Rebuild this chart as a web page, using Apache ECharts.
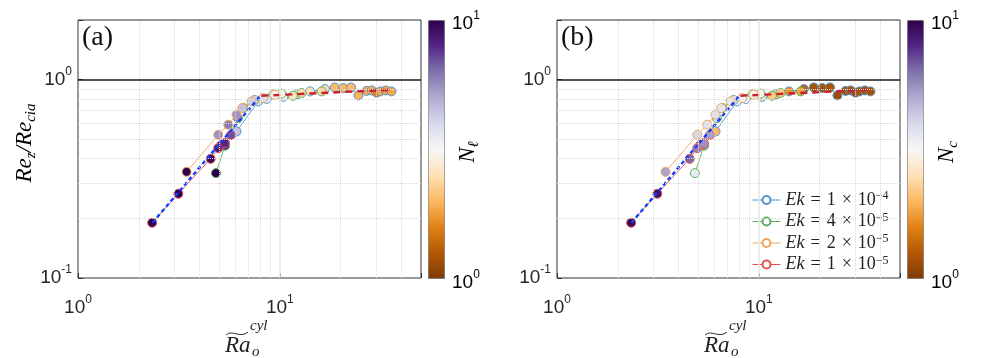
<!DOCTYPE html>
<html>
<head>
<meta charset="utf-8">
<script src="https://cdn.jsdelivr.net/npm/echarts@6/dist/echarts.min.js"></script>
<style>
  html, body { margin: 0; background: #fff; }
  #chart { width: 981px; height: 358px; }
</style>
</head>
<body>
<div id="chart"></div>
<script>
// --- data (same x/y in both panels, fill differs) ---
const ekNames = ['Ek1e-4', 'Ek4e-5', 'Ek2e-5', 'Ek1e-5'];
const ekText = { 'Ek1e-4': ['1', '−4'], 'Ek4e-5': ['4', '−5'], 'Ek2e-5': ['2', '−5'], 'Ek1e-5': ['1', '−5'] };

const blueX  = [6.1, 7.8, 8.6, 10.4, 12.2, 14.1, 16.7, 18.7, 20.6, 22.5, 24.5, 26.9, 28.5, 30.1, 31.5, 33.5, 35.7];
const blueY  = [0.548, 0.777, 0.80, 0.82, 0.845, 0.873, 0.897, 0.914, 0.908, 0.914, 0.833, 0.878, 0.883, 0.86, 0.873, 0.883, 0.873];
const blueNl = [4.5, 3.8, 3.6, 3.0, 2.8, 2.6, 2.5, 2.0, 2.0, 2.0, 1.95, 1.9, 1.9, 1.6, 1.85, 1.85, 1.85];
const blueNc = [2.0, 3.4, 3.2, 2.6, 2.3, 1.7, 1.35, 1.2, 1.2, 1.2, 1.15, 1.2, 1.2, 1.15, 1.2, 1.2, 1.2];

const greenX  = [4.82, 5.35, 6.2, 6.6, 7.5, 9.3, 10.2, 11.6, 12.8, 16.1];
const greenY  = [0.338, 0.465, 0.64, 0.72, 0.79, 0.845, 0.85, 0.83, 0.857, 0.873];
const greenNl = [10, 8, 6, 4.5, 4, 3.3, 3.0, 2.6, 2.5, 2.4];
const greenNc = [3.5, 5.5, 4, 3.7, 3.5, 3.2, 3.0, 2.2, 2.2, 1.8];

const orangeX  = [3.45, 4.95, 5.55, 6.1, 6.51, 7.24, 8.27, 9.45];
const orangeY  = [0.343, 0.527, 0.593, 0.666, 0.719, 0.777, 0.808, 0.84];
const orangeNl = [10, 5.5, 6, 5.5, 4.5, 4.2, 3.8, 3.2];
const orangeNc = [5.2, 4, 3.7, 3.7, 3.6, 3.5, 3.3, 3.1];

const redX  = [2.33, 3.14, 4.54, 4.95, 5.14, 5.34, 5.72];
const redY  = [0.190, 0.266, 0.399, 0.452, 0.470, 0.479, 0.526];
const redNl = [10, 10, 9.5, 8.5, 8, 8, 7];
const redNc = [9.5, 9, 6.5, 5.8, 5.5, 5.5, 5.2];

const blueFitX = [2.34, 7.96];
const blueFitY = [0.19, 0.823];
const redFitX  = [8.1, 36.4];
const redFitY  = [0.83, 0.89];

const xMinor = [2, 3, 4, 5, 6, 7, 8, 9, 20, 30, 40];
const yMinor = [0.2, 0.3, 0.4, 0.5, 0.6, 0.7, 0.8, 0.9];
const cbMinor = [2, 3, 4, 5, 6, 7, 8, 9];

const ekColors = ['#4f94cf', '#5cb05c', '#f2a45c', '#e05252'];
const puOr = ['#7f3b08', '#b35806', '#e08214', '#fdb863', '#fee0b6', '#f7f7f7',
              '#d8daeb', '#b2abd2', '#8073ac', '#542788', '#2d004b'];

const chart = echarts.init(document.getElementById('chart'));

const sans = 'Liberation Sans';
const serif = 'Liberation Serif';
const ink = '#262626';

const tickRich = {
  b: { fontFamily: sans, fontSize: 19, color: ink, lineHeight: 28 },
  s: { fontFamily: sans, fontSize: 12, color: ink, lineHeight: 9, verticalAlign: 'top' }
};

function powLabel(v) {
  const e = Math.log10(v);
  const r = Math.round(e);
  if (Math.abs(e - r) > 1e-6) return '';
  return '{b|10}{s|' + (r < 0 ? '-' + (-r) : r) + '}';
}

const panels = [
  { left: 78, cb: 428, nl: 'ℓ', label: '(a)' },
  { left: 557, cb: 907, nl: 'c', label: '(b)' }
];
const gTop = 20, gW = 343, gH = 258;

const grids = [], xAxes = [], yAxes = [], series = [], visualMaps = [], graphics = [];

panels.forEach((p, k) => {
  grids.push({ left: p.left, top: gTop, width: gW, height: gH, show: true,
               borderColor: '#333', borderWidth: 1, backgroundColor: 'transparent' });
  xAxes.push({
    type: 'log', gridIndex: k, min: 1, max: 50, logBase: 10,
    axisLine: { show: false },
    axisTick: { inside: true, length: 5, lineStyle: { color: '#333' } },
    axisLabel: { margin: 16, formatter: powLabel, rich: tickRich },
    splitLine: { show: false }
  });
  yAxes.push({
    type: 'log', gridIndex: k, min: 0.1, max: 2, logBase: 10,
    axisLine: { show: false },
    axisTick: { inside: true, length: 5, lineStyle: { color: '#333' } },
    axisLabel: { margin: 6, formatter: powLabel, rich: tickRich },
    splitLine: { show: false }
  });

  const gridLines = [];
  xMinor.forEach(v => gridLines.push({ xAxis: v }));
  yMinor.forEach(v => gridLines.push({ yAxis: v }));
  gridLines.push({ xAxis: 10, lineStyle: { type: 'solid', color: '#e6e6e6', width: 1.5 } });
  gridLines.push({ yAxis: 1, lineStyle: { type: 'solid', color: '#1a1a1a', width: 1.5 } });

  series.push({
    type: 'line', xAxisIndex: k, yAxisIndex: k, data: [], silent: true, z: 1,
    markLine: {
      silent: true, symbol: ['none', 'none'], label: { show: false },
      lineStyle: { type: 'dotted', color: '#d9d9d9', width: 1 },
      emphasis: { disabled: true },
      data: gridLines
    }
  });

  const first = series.length;
  const sets = [
    [blueX, blueY, k ? blueNc : blueNl],
    [greenX, greenY, k ? greenNc : greenNl],
    [orangeX, orangeY, k ? orangeNc : orangeNl],
    [redX, redY, k ? redNc : redNl]
  ];
  sets.forEach((s, i) => {
    series.push({
      name: ekNames[i], type: 'line', xAxisIndex: k, yAxisIndex: k, z: 3,
      data: s[0].map((x, j) => [x, s[1][j], Math.log10(s[2][j])]),
      symbol: 'circle', symbolSize: 9, showSymbol: true,
      lineStyle: { color: ekColors[i], width: 0.9 },
      itemStyle: { color: '#ffffff', borderColor: ekColors[i], borderWidth: 1 },
      emphasis: { disabled: true }
    });
  });
  visualMaps.push({
    type: 'continuous', min: 0, max: 1, dimension: 2,
    seriesIndex: [first, first + 1, first + 2, first + 3],
    inRange: { color: puOr },
    left: p.cb, top: gTop, itemWidth: 16, itemHeight: gH,
    calculable: false, text: null, padding: 0, hoverLink: false,
    borderColor: '#777', borderWidth: 1
  });

  series.push({
    type: 'line', xAxisIndex: k, yAxisIndex: k, z: 4, silent: true,
    data: blueFitX.map((x, j) => [x, blueFitY[j]]), symbol: 'none',
    lineStyle: { color: '#1040ff', width: 2.4, type: [4, 3] }
  });
  series.push({
    type: 'line', xAxisIndex: k, yAxisIndex: k, z: 4, silent: true,
    data: redFitX.map((x, j) => [x, redFitY[j]]), symbol: 'none',
    lineStyle: { color: '#c8202c', width: 2.4, type: [7, 5] }
  });

  // panel letter
  graphics.push({ type: 'text', x: p.left + 4, y: 38,
    style: { text: p.label, font: '28px "Liberation Serif"', fill: '#111', verticalAlign: 'middle' } });

  // x-axis title: tilde Ra with o subscript and cyl superscript
  const lx = p.left + 147;
  graphics.push({ type: 'text', x: lx, y: 346,
    style: { text: 'Ra', font: 'italic 23px "Liberation Serif"', fill: '#222', verticalAlign: 'middle' } });
  graphics.push({ type: 'bezierCurve',
    shape: { x1: lx + 1, y1: 335, cpx1: lx + 7, cpy1: 329, cpx2: lx + 15, cpy2: 339, x2: lx + 23, y2: 332 },
    style: { stroke: '#333', lineWidth: 1, fill: 'none' } });
  graphics.push({ type: 'text', x: lx + 25, y: 326,
    style: { text: 'cyl', font: 'italic 15px "Liberation Serif"', fill: '#222', verticalAlign: 'middle' } });
  graphics.push({ type: 'text', x: lx + 27, y: 352,
    style: { text: 'o', font: 'italic 15px "Liberation Serif"', fill: '#222', verticalAlign: 'middle' } });

  // colorbar labels, ticks, title
  graphics.push({ type: 'text', x: p.cb + 24, y: 24,
    style: { text: '{b|10}{s|1}', rich: tickRich, verticalAlign: 'middle' } });
  graphics.push({ type: 'text', x: p.cb + 24, y: 283,
    style: { text: '{b|10}{s|0}', rich: tickRich, verticalAlign: 'middle' } });
  cbMinor.forEach(v => {
    const yy = gTop + gH * (1 - Math.log10(v));
    graphics.push({ type: 'line', shape: { x1: p.cb + 13, y1: yy, x2: p.cb + 16, y2: yy },
      style: { stroke: '#555', lineWidth: 1 } });
  });
  graphics.push({ type: 'text', x: p.cb + 40, y: 152, rotation: Math.PI / 2,
    style: {
      text: '{n|N}{s|' + p.nl + '}', align: 'center', verticalAlign: 'middle',
      rich: {
        n: { fontFamily: serif, fontStyle: 'italic', fontSize: 23, color: '#222', lineHeight: 28 },
        s: { fontFamily: serif, fontStyle: 'italic', fontSize: 15, color: '#222', lineHeight: 12, verticalAlign: 'bottom' }
      }
    } });
});

// y-axis title on the left panel
graphics.push({ type: 'text', x: 25, y: 143, rotation: Math.PI / 2,
  style: {
    text: '{i|Re}{s|z}{i|/Re}{s|cia}', align: 'center', verticalAlign: 'middle',
    rich: {
      i: { fontFamily: serif, fontStyle: 'italic', fontSize: 23, color: '#222', lineHeight: 28 },
      s: { fontFamily: serif, fontStyle: 'italic', fontSize: 15, color: '#222', lineHeight: 12, verticalAlign: 'bottom' }
    }
  } });

const sp = '\u2004';
chart.setOption({
  animation: false,
  grid: grids,
  xAxis: xAxes,
  yAxis: yAxes,
  visualMap: visualMaps,
  legend: {
    data: ekNames, orient: 'vertical', left: 747, top: 185,
    itemWidth: 28, itemHeight: 10, itemGap: 1.5, selectedMode: false,
    lineStyle: { width: 1 },
    formatter: name => '{i|Ek}' + sp + '=' + sp + ekText[name][0] + sp + '×' + sp + '10{s|' + ekText[name][1] + '}',
    textStyle: {
      fontFamily: serif, fontSize: 18, color: '#222', lineHeight: 20,
      rich: {
        i: { fontFamily: serif, fontStyle: 'italic', fontSize: 18, color: '#222', lineHeight: 20 },
        s: { fontFamily: serif, fontSize: 12, color: '#222', lineHeight: 8, verticalAlign: 'top' }
      }
    }
  },
  graphic: graphics,
  series: series
});
</script>
</body>
</html>
